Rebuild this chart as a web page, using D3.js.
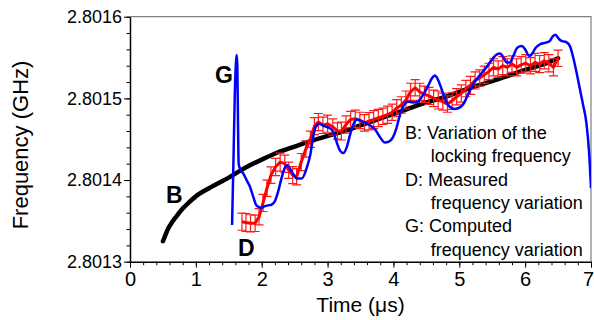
<!DOCTYPE html>
<html>
<head>
<meta charset="utf-8">
<script src="https://cdn.jsdelivr.net/npm/d3@7"></script>
<style>
html,body{margin:0;padding:0;background:#fff;}
svg{display:block;}
text{font-family:"Liberation Sans",Arial,sans-serif;}
</style>
</head>
<body>
<svg id="chart" width="594" height="320"></svg>
<script>
// ---- Data ----
const xTicks = [0,1,2,3,4,5,6,7];
const yTicks = [2.8013,2.8014,2.8015,2.8016];

// B: variation of the locking frequency
const bTime = [0.5,0.53,0.57,0.62,0.7,0.8,0.9,1.0,1.2,1.5,1.75,2.0,2.25,2.5,2.75,3.0,3.25,3.5,3.75,4.0,4.25,4.5,4.75,5.0,5.25,5.5,5.75,6.0,6.25,6.5];
const bFreq = [2.801325,2.801331,2.801339,2.801346,2.801355,2.801365,2.801373,2.801380,2.801390,2.801403,2.801415,2.801425,2.801434,2.801441,2.801448,2.801454,2.801460,2.801467,2.801474,2.801481,2.801488,2.801495,2.801501,2.801508,2.801515,2.801521,2.801528,2.801535,2.801541,2.801549];

// D: measured frequency variation (with error bars)
const dTime = [1.70,1.76,1.83,1.90,1.96,2.02,2.08,2.14,2.21,2.28,2.35,2.41,2.47,2.53,2.60,2.67,2.74,2.80,2.86,2.93,3.00,3.08,3.15,3.21,3.28,3.35,3.42,3.49,3.56,3.63,3.70,3.77,3.84,3.91,3.98,4.05,4.12,4.19,4.26,4.33,4.40,4.47,4.54,4.61,4.68,4.75,4.82,4.89,4.96,5.03,5.10,5.17,5.24,5.31,5.38,5.45,5.52,5.59,5.66,5.73,5.80,5.87,5.94,6.01,6.08,6.15,6.22,6.29,6.36,6.43,6.50];
const dFreq = [2.801349,2.801348,2.801347,2.801347,2.801355,2.801372,2.801390,2.801406,2.801416,2.801422,2.801420,2.801412,2.801406,2.801404,2.801422,2.801438,2.801450,2.801466,2.801471,2.801467,2.801469,2.801465,2.801460,2.801460,2.801468,2.801474,2.801475,2.801473,2.801470,2.801472,2.801474,2.801476,2.801478,2.801480,2.801483,2.801488,2.801492,2.801498,2.801508,2.801513,2.801508,2.801505,2.801503,2.801500,2.801498,2.801496,2.801493,2.801497,2.801502,2.801506,2.801512,2.801516,2.801522,2.801525,2.801529,2.801533,2.801538,2.801536,2.801540,2.801538,2.801542,2.801538,2.801541,2.801543,2.801540,2.801544,2.801542,2.801546,2.801543,2.801538,2.801549];
const dErr = [0.0000105,0.0000110,0.0000105,0.0000100,0.0000100,0.0000105,0.0000100,0.0000100,0.0000105,0.0000110,0.0000105,0.0000100,0.0000105,0.0000100,0.0000105,0.0000100,0.0000100,0.0000105,0.0000105,0.0000100,0.0000105,0.0000100,0.0000100,0.0000110,0.0000105,0.0000100,0.0000105,0.0000100,0.0000100,0.0000105,0.0000110,0.0000105,0.0000100,0.0000105,0.0000100,0.0000105,0.0000100,0.0000110,0.0000105,0.0000100,0.0000105,0.0000100,0.0000105,0.0000100,0.0000110,0.0000105,0.0000100,0.0000105,0.0000100,0.0000105,0.0000100,0.0000110,0.0000105,0.0000100,0.0000105,0.0000100,0.0000105,0.0000100,0.0000110,0.0000105,0.0000100,0.0000105,0.0000100,0.0000105,0.0000100,0.0000110,0.0000105,0.0000100,0.0000105,0.0000105,0.0000100];

// G: computed frequency variation
const gTime = [1.55,1.57,1.59,1.61,1.62,1.63,1.64,1.65,1.68,1.72,1.77,1.82,1.87,1.92,1.99,2.05,2.10,2.15,2.20,2.25,2.30,2.35,2.39,2.43,2.48,2.53,2.61,2.68,2.74,2.78,2.82,2.88,2.95,3.02,3.08,3.14,3.19,3.24,3.29,3.34,3.39,3.45,3.52,3.58,3.64,3.72,3.80,3.87,3.93,3.99,4.04,4.10,4.16,4.22,4.30,4.37,4.44,4.52,4.58,4.63,4.67,4.72,4.78,4.85,4.93,5.01,5.07,5.14,5.20,5.27,5.35,5.43,5.50,5.57,5.62,5.67,5.72,5.77,5.82,5.88,5.95,6.00,6.06,6.10,6.16,6.22,6.30,6.37,6.42,6.46,6.51,6.56,6.62,6.68,6.73,6.78,6.83,6.88,6.93,6.97,7.00];
const gFreq = [2.801345,2.801420,2.801500,2.801545,2.801553,2.801540,2.801470,2.801420,2.801412,2.801408,2.801400,2.801392,2.801380,2.801369,2.801366,2.801368,2.801369,2.801370,2.801374,2.801386,2.801402,2.801415,2.801418,2.801414,2.801407,2.801402,2.801402,2.801414,2.801432,2.801452,2.801465,2.801469,2.801466,2.801464,2.801460,2.801446,2.801436,2.801433,2.801440,2.801455,2.801468,2.801474,2.801472,2.801470,2.801467,2.801462,2.801452,2.801446,2.801447,2.801452,2.801462,2.801480,2.801492,2.801496,2.801495,2.801496,2.801503,2.801514,2.801524,2.801528,2.801524,2.801514,2.801500,2.801490,2.801487,2.801489,2.801494,2.801506,2.801516,2.801524,2.801532,2.801540,2.801548,2.801554,2.801555,2.801550,2.801544,2.801544,2.801552,2.801562,2.801564,2.801560,2.801552,2.801554,2.801562,2.801566,2.801568,2.801570,2.801576,2.801578,2.801573,2.801570,2.801569,2.801564,2.801550,2.801532,2.801512,2.801492,2.801470,2.801435,2.801390];

const legendLines = [
  {t:"B: Variation of the", indent:false},
  {t:"locking frequency", indent:true},
  {t:"D: Measured", indent:false},
  {t:"frequency variation", indent:true},
  {t:"G: Computed", indent:false},
  {t:"frequency variation", indent:true}
];

// ---- Chart ----
const svg = d3.select("#chart");
const L = 130, R = 591, T = 16.7, B = 261.7;
const x = d3.scaleLinear().domain([0,7]).range([L,R]);
const y = d3.scaleLinear().domain([2.8013,2.8016]).range([B,T]);

svg.append("defs").append("clipPath").attr("id","clip")
  .append("rect").attr("x",L).attr("y",T).attr("width",R-L).attr("height",B-T);

// frame (top/right gray)
svg.append("path").attr("d",`M${L},${T}H${R}V${B}`).attr("fill","none")
  .attr("stroke","#7f7f7f").attr("stroke-width",1.2);

const plot = svg.append("g").attr("clip-path","url(#clip)");

// B curve
const bData = bTime.map((t,i)=>[t,bFreq[i]]);
plot.append("path").datum(bData)
  .attr("d", d3.line().x(d=>x(d[0])).y(d=>y(d[1])).curve(d3.curveMonotoneX))
  .attr("fill","none").attr("stroke","#000").attr("stroke-width",4.5).attr("stroke-linecap","round");

// D error bars
const dData = dTime.map((t,i)=>({t, f:dFreq[i], e:dErr[i]}));
const eb = plot.append("g").attr("stroke","#ff1a1a").attr("stroke-width",1.2).attr("fill","none");
dData.forEach(d=>{
  const cx = x(d.t), y1 = y(d.f + d.e), y2 = y(d.f - d.e);
  eb.append("path").attr("d",`M${cx},${y1}V${y2}M${cx-4.5},${y1}H${cx+4.5}M${cx-4.5},${y2}H${cx+4.5}`);
});
// D line
plot.append("path").datum(dData)
  .attr("d", d3.line().x(d=>x(d.t)).y(d=>y(d.f)))
  .attr("fill","none").attr("stroke","#ff0000").attr("stroke-width",3).attr("stroke-linejoin","round");

// G curve
const gData = gTime.map((t,i)=>[t,gFreq[i]]);
plot.append("path").datum(gData)
  .attr("d", d3.line().x(d=>x(d[0])).y(d=>y(d[1])).curve(d3.curveMonotoneX))
  .attr("fill","none").attr("stroke","#0000ff").attr("stroke-width",2.5).attr("stroke-linejoin","round");

// axes
const yMinor = d3.range(0,16).map(i=>2.8013 + i*0.00002);
const xMinor = d3.range(0,36).map(i=>i*0.2);
svg.append("g").attr("transform",`translate(${L},0)`)
  .call(d3.axisLeft(y).tickValues(yMinor).tickSize(3.5).tickFormat(""))
  .call(g=>g.select(".domain").remove());
svg.append("g").attr("transform",`translate(0,${B})`)
  .call(d3.axisBottom(x).tickValues(xMinor).tickSize(3.5).tickFormat(""))
  .call(g=>g.select(".domain").remove());

const yAx = svg.append("g").attr("transform",`translate(${L},0)`)
  .call(d3.axisLeft(y).tickValues(yTicks).tickSize(6).tickPadding(2).tickFormat(d3.format(".4f")).tickSizeOuter(0));
yAx.selectAll("text").attr("font-size",18).attr("fill","#000").attr("font-family","Liberation Sans, Arial, sans-serif");
const xAx = svg.append("g").attr("transform",`translate(0,${B})`)
  .call(d3.axisBottom(x).tickValues(xTicks).tickSize(6).tickPadding(4).tickFormat(d3.format("d")).tickSizeOuter(0));
xAx.selectAll("text").attr("font-size",20).attr("fill","#000").attr("font-family","Liberation Sans, Arial, sans-serif");
// keep the last tick label inside the window
xAx.selectAll(".tick").filter(d=>d===7).select("text").attr("dx",-3);
svg.selectAll(".domain").attr("stroke","#000").attr("stroke-width",1.5);
svg.selectAll(".tick line").attr("stroke","#000").attr("stroke-width",1);

// axis titles
svg.append("text").attr("x",(L+R)/2).attr("y",312).attr("text-anchor","middle")
  .attr("font-size",21).text("Time (μs)");
svg.append("text").attr("transform","translate(28,145) rotate(-90)").attr("text-anchor","middle")
  .attr("font-size",22).text("Frequency (GHz)");

// curve labels
const lab = [["G",215,83],["B",166,203],["D",238,256]];
lab.forEach(l=>svg.append("text").attr("x",l[1]).attr("y",l[2]).attr("font-size",23)
  .attr("font-weight","bold").text(l[0]));

// legend
legendLines.forEach((d,i)=>{
  svg.append("text").attr("x", d.indent ? 430.7 : 405).attr("y", 139 + i*23.3)
    .attr("font-size",18).attr("fill","#000").text(d.t);
});
</script>
</body>
</html>
